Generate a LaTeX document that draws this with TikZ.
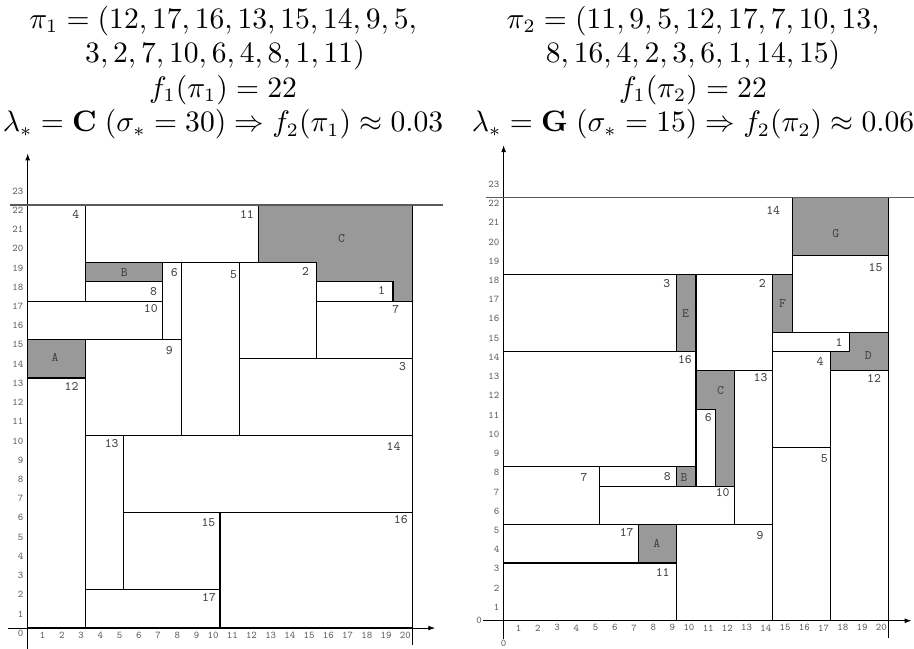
\documentclass[tikz,border=0pt]{standalone}
\usetikzlibrary{arrows.meta}
\definecolor{holegray}{HTML}{999999}
\definecolor{labelgray}{HTML}{444444}
\definecolor{tickgray}{HTML}{606060}
\definecolor{ceilgray}{HTML}{5A5A5A}
\tikzset{
  box/.style={draw=black, line width=0.42pt, fill=white},
  hole/.style={draw=black, line width=0.42pt, fill=holegray},
  lbl/.style={font=\fontsize{4.8}{5.5}\selectfont\ttfamily, text=labelgray, inner sep=0pt},
  ticklbl/.style={font=\fontsize{3.8}{4.2}\selectfont\ttfamily, text=tickgray, inner sep=0pt},
  axis/.style={draw=black, line width=0.4pt, -{Latex[length=2.6pt,width=1.8pt]}},
  ceil/.style={draw=ceilgray, line width=0.45pt},
  title/.style={font=\fontsize{10.55}{12}\selectfont, inner sep=0pt, anchor=base}
}
\begin{document}
\begin{tikzpicture}[x=0.25cm,y=0.25cm]
\useasboundingbox (0,0) rectangle (47.53,33.70);
% titles
\node[title] (tl1) at (11.6,32.24) {$\pi_1 = (12, 17, 16, 13, 15, 14, 9, 5,$};
\node[title] (tl2) at (11.7,30.47) {$3, 2, 7, 10, 6, 4, 8, 1, 11)$};
\node[title] (tl3) at (11.6,28.65) {$f_1(\pi_1) = 22$};
\node[title] (tl4) at (11.6,26.85) {$\lambda_* = \mathbf{C}\;(\sigma_* = 30) \Rightarrow f_2(\pi_1) \approx 0.03$};
\node[title] (tr1) at (36.04,32.24) {$\pi_2 = (11, 9, 5, 12, 17, 7, 10, 13,$};
\node[title] (tr2) at (36.04,30.47) {$8, 16, 4, 2, 3, 6, 1, 14, 15)$};
\node[title] (tr3) at (36.04,28.65) {$f_1(\pi_2) = 22$};
\node[title] (tr4) at (36.04,26.85) {$\lambda_* = \mathbf{G}\;(\sigma_* = 15) \Rightarrow f_2(\pi_2) \approx 0.06$};

% ---------------- left packing
\begin{scope}[shift={(1.44,1.04)}]
  \draw[hole] (12,22) -- (20,22) -- (20,17) -- (19,17) -- (19,18) -- (15,18) -- (15,19) -- (12,19) -- cycle;
  \draw[hole] (3,18) rectangle (7,19);
  \draw[hole] (0,13) rectangle (3,15);
  \draw[box] (0,17) rectangle (3,22);
  \draw[box] (3,19) rectangle (12,22);
  \draw[box] (15,17) rectangle (19,18);
  \draw[box] (11,14) rectangle (15,19);
  \draw[box] (15,14) rectangle (20,17);
  \draw[box] (11,10) rectangle (20,14);
  \draw[box] (3,17) rectangle (7,18);
  \draw[box] (7,15) rectangle (8,19);
  \draw[box] (0,15) rectangle (7,17);
  \draw[box] (8,10) rectangle (11,19);
  \draw[box] (3,10) rectangle (8,15);
  \draw[box] (0,0) rectangle (3,13);
  \draw[box] (3,2) rectangle (5,10);
  \draw[box] (5,6) rectangle (20,10);
  \draw[box] (5,2) rectangle (10,6);
  \draw[box] (10,0) rectangle (20,6);
  \draw[box] (3,0) rectangle (10,2);
  % labels
  \node[lbl] (L4) at (2.5,21.5) {4};
  \node[lbl] (L11) at (11.4,21.5) {11};
  \node[lbl] (LC) at (16.32,20.25) {C};
  \node[lbl] (LB) at (5.02,18.49) {B};
  \node[lbl] (L6) at (7.63,18.49) {6};
  \node[lbl] (L5) at (10.71,18.38) {5};
  \node[lbl] (L2) at (14.45,18.52) {2};
  \node[lbl] (L8) at (6.54,17.52) {8};
  \node[lbl] (L1) at (18.4,17.57) {1};
  \node[lbl] (L10) at (6.4,16.6) {10};
  \node[lbl] (L7) at (19.15,16.56) {7};
  \node[lbl] (LA) at (1.42,14.07) {A};
  \node[lbl] (L9) at (7.37,14.43) {9};
  \node[lbl] (L3) at (19.5,13.6) {3};
  \node[lbl] (L12) at (2.28,12.54) {12};
  \node[lbl] (L13) at (4.37,9.6) {13};
  \node[lbl] (L14) at (19.03,9.42) {14};
  \node[lbl] (L15) at (9.4,5.47) {15};
  \node[lbl] (L16) at (19.4,5.65) {16};
  \node[lbl] (L17) at (9.43,1.6) {17};
  % axes
  \coordinate (lxs) at (-1.01,0);
  \coordinate (lxe) at (21.2,0);
  \coordinate (lys) at (0,-1.1);
  \coordinate (lye) at (0,24.69);
  \draw[axis] (lxs) -- (lxe);
  \draw[axis] (lys) -- (lye);
  \coordinate (lcs) at (-0.9,22);
  \coordinate (lce) at (21.6,22);
  \draw[ceil] (lcs) -- (lce);
  \coordinate (lv1) at (20,0);
  \coordinate (lv2) at (20,-0.88);
  \draw[line width=0.45pt] (lv1) -- (lv2);
  \foreach \k in {1,...,20} \node[ticklbl, anchor=east] (lx\k) at (\k-0.05,-0.37) {\k};
  \foreach \k in {0,...,23} \node[ticklbl, anchor=east] (ly\k) at (-0.2,\k-0.27) {\k};
\end{scope}

% ---------------- right packing
\begin{scope}[shift={(26.19,1.42)}]
  \draw[hole] (15,19) rectangle (20,22);
  \draw[hole] (9,14) rectangle (10,18);
  \draw[hole] (14,15) rectangle (15,18);
  \draw[hole] (18,15) -- (20,15) -- (20,13) -- (17,13) -- (17,14) -- (18,14) -- cycle;
  \draw[hole] (10,13) -- (12,13) -- (12,7) -- (11,7) -- (11,11) -- (10,11) -- cycle;
  \draw[hole] (9,7) rectangle (10,8);
  \draw[hole] (7,3) rectangle (9,5);
  \draw[box] (0,18) rectangle (15,22);
  \draw[box] (15,15) rectangle (20,19);
  \draw[box] (0,14) rectangle (9,18);
  \draw[box] (10,13) rectangle (14,18);
  \draw[box] (14,14) rectangle (18,15);
  \draw[box] (0,8) rectangle (10,14);
  \draw[box] (12,5) rectangle (14,13);
  \draw[box] (14,9) rectangle (17,14);
  \draw[box] (17,0) rectangle (20,13);
  \draw[box] (14,0) rectangle (17,9);
  \draw[box] (10,7) rectangle (11,11);
  \draw[box] (0,5) rectangle (5,8);
  \draw[box] (5,7) rectangle (9,8);
  \draw[box] (5,5) rectangle (12,7);
  \draw[box] (0,3) rectangle (7,5);
  \draw[box] (0,0) rectangle (9,3);
  \draw[box] (9,0) rectangle (14,5);
  % labels
  \node[lbl] (R14) at (14.02,21.36) {14};
  \node[lbl] (RG) at (17.28,20.15) {G};
  \node[lbl] (R15) at (19.34,18.37) {15};
  \node[lbl] (R3) at (8.48,17.54) {3};
  \node[lbl] (R2) at (13.45,17.54) {2};
  \node[lbl] (RE) at (9.46,15.98) {E};
  \node[lbl] (RF) at (14.51,16.47) {F};
  \node[lbl] (R1) at (17.44,14.45) {1};
  \node[lbl] (RD) at (18.96,13.79) {D};
  \node[lbl] (R16) at (9.43,13.58) {16};
  \node[lbl] (R4) at (16.45,13.49) {4};
  \node[lbl] (RC) at (11.28,11.97) {C};
  \node[lbl] (R13) at (13.36,12.63) {13};
  \node[lbl] (R12) at (19.26,12.6) {12};
  \node[lbl] (R6) at (10.64,10.55) {6};
  \node[lbl] (R5) at (16.67,8.43) {5};
  \node[lbl] (R7) at (4.18,7.47) {7};
  \node[lbl] (R8) at (8.51,7.52) {8};
  \node[lbl] (RB) at (9.38,7.44) {B};
  \node[lbl] (R10) at (11.39,6.69) {10};
  \node[lbl] (R17) at (6.4,4.57) {17};
  \node[lbl] (RA) at (7.96,4.02) {A};
  \node[lbl] (R9) at (13.33,4.41) {9};
  \node[lbl] (R11) at (8.27,2.49) {11};
  % axes
  \coordinate (rxs) at (-1.06,0);
  \coordinate (rxe) at (21.22,0);
  \coordinate (rys) at (0,-0.95);
  \coordinate (rye) at (0,24.74);
  \draw[axis] (rxs) -- (rxe);
  \draw[axis] (rys) -- (rye);
  \coordinate (rcs) at (-0.92,22);
  \coordinate (rce) at (21.4,22);
  \draw[ceil] (rcs) -- (rce);
  \coordinate (rv1) at (20,0);
  \coordinate (rv2) at (20,-0.92);
  \draw[line width=0.45pt] (rv1) -- (rv2);
  \foreach \k in {1,...,20} \node[ticklbl, anchor=east] (rx\k) at (\k-0.05,-0.37) {\k};
  \foreach \k in {1,...,23} \node[ticklbl, anchor=east] (ry\k) at (-0.2,\k-0.3) {\k};
  \node[ticklbl] (rx0) at (-1.28,0) {0};
  \node[ticklbl, anchor=south] (ry0) at (0,-1.39) {0};
\end{scope}
\end{tikzpicture}
\end{document}
